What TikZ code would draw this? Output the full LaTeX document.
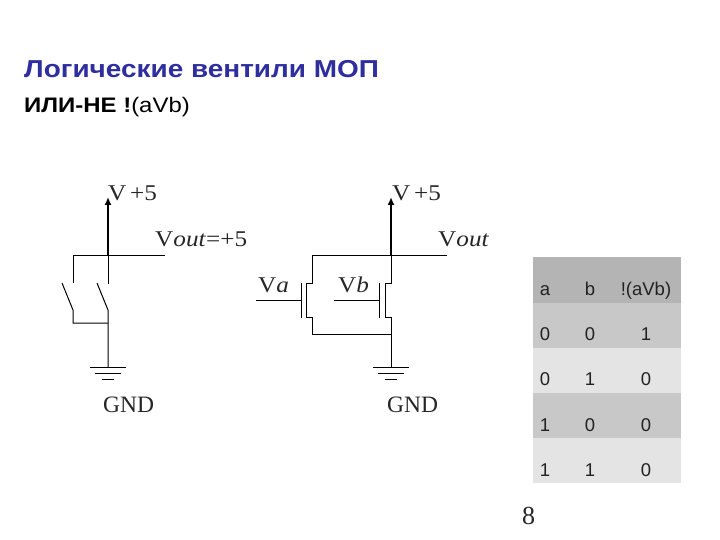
\documentclass[tikz,border=0pt]{standalone}
\usepackage{fontspec}
\setmainfont{Liberation Serif}
\setsansfont{Liberation Sans}
\newfontfamily\stsans[FakeStretch=1.14]{Liberation Sans}
\newfontfamily\stserif[FakeStretch=1.12]{Liberation Serif}
\usetikzlibrary{arrows.meta,calc}
\definecolor{titleblue}{HTML}{2E2E9E}
\definecolor{rowhead}{HTML}{B4B4B4}
\definecolor{rowdark}{HTML}{C8C8C8}
\definecolor{rowlight}{HTML}{E4E4E4}
\definecolor{cellink}{HTML}{222222}
\tikzset{
  x=1pt,y=-1pt,
  wire/.style={line width=1pt,black},
  supply/.style={line width=1.6pt,black,-{Latex[length=8pt,width=7pt]}},
  lbl/.style={inner sep=0pt,anchor=base west,font=\stserif\fontsize{22.5}{24}\selectfont,text=black!85},
  plainlbl/.style={inner sep=0pt,anchor=base west,font=\rmfamily\fontsize{23.5}{25}\selectfont,text=black!85},
  cell/.style={inner sep=0pt,anchor=base,font=\sffamily\fontsize{18.5}{20}\selectfont,text=cellink},
}
\newcommand{\gnd}[1]{%
  \coordinate (#1a) at ($(#1)+(-18,0)$);\coordinate (#1b) at ($(#1)+(18,0)$);
  \coordinate (#1c) at ($(#1)+(-13,6)$);\coordinate (#1d) at ($(#1)+(13,6)$);
  \coordinate (#1e) at ($(#1)+(-6,12)$);\coordinate (#1f) at ($(#1)+(6,12)$);
  \draw[wire] (#1a)--(#1b) (#1c)--(#1d) (#1e)--(#1f);}
\begin{document}
\begin{tikzpicture}
\useasboundingbox (0,0) rectangle (720,540);
% title
\node[inner sep=0pt,anchor=base west,font=\stsans\bfseries\fontsize{24.5}{28}\selectfont,text=titleblue] (title) at (24,78) {Логические вентили МОП};
\node[inner sep=0pt,anchor=base west,font=\stsans\fontsize{21}{24}\selectfont] (sub) at (24,113) {\textbf{ИЛИ-НЕ !}(aVb)};
% left circuit
\coordinate (Ltop) at (108,197);
\coordinate (Ljoin) at (108,255);
\coordinate (Lleft) at (73,255);
\coordinate (Lout) at (165,255);
\coordinate (S1t) at (73,283);
\coordinate (S1bl) at (62,283);
\coordinate (S1b) at (73,310);
\coordinate (S1e) at (73,323);
\coordinate (S2t) at (108,284);
\coordinate (S2bl) at (97,283);
\coordinate (S2b) at (108,310);
\coordinate (Ljoin2) at (108,323);
\coordinate (Lg) at (108,367);
\draw[supply] (Ljoin)--(Ltop);
\draw[wire] (S1t)--(Lleft)--(Lout);
\draw[wire] (Ljoin)--(S2t);
\draw[wire] (S1bl)--(S1b)--(S1e)--(Ljoin2);
\draw[wire] (S2bl)--(S2b)--(Lg);
\gnd{Lg}
\node[lbl] (Lv) at (108,201) {V\,+5};
\node[lbl] (Lvo) at (155,247) {V\textit{out}=+5};
\node[plainlbl] (Lgnd) at (103,412) {GND};
% right circuit
\coordinate (Rtop) at (391,197);
\coordinate (Rjoin) at (391,255);
\coordinate (Rleft) at (312,255);
\coordinate (Rout) at (447,255);
\coordinate (T1a) at (312,283);
\coordinate (T1b) at (306,283);
\coordinate (T1c) at (306,317);
\coordinate (T1d) at (312,317);
\coordinate (T1e) at (312,334);
\coordinate (G1t) at (301,283);
\coordinate (G1b) at (301,318);
\coordinate (G1m) at (301,300);
\coordinate (G1i) at (256,300);
\coordinate (T2a) at (391,283);
\coordinate (T2b) at (385,283);
\coordinate (T2c) at (385,317);
\coordinate (T2d) at (391,317);
\coordinate (Rjoin2) at (391,334);
\coordinate (G2t) at (379,283);
\coordinate (G2b) at (379,318);
\coordinate (G2m) at (379,300);
\coordinate (G2i) at (334,300);
\coordinate (Rg) at (391,367);
\draw[supply] (Rjoin)--(Rtop);
\draw[wire] (Rout)--(Rleft)--(T1a)--(T1b)--(T1c)--(T1d)--(T1e)--(Rjoin2);
\draw[wire] (Rjoin)--(T2a)--(T2b)--(T2c)--(T2d)--(Rg);
\draw[wire] (G1t)--(G1b) (G1i)--(G1m);
\draw[wire] (G2t)--(G2b) (G2i)--(G2m);
\gnd{Rg}
\node[lbl] (Rv) at (392,201) {V\,+5};
\node[lbl] (Rvo) at (438,247) {V\textit{out}};
\node[lbl] (Va) at (258,292) {V\textit{a}};
\node[lbl] (Vb) at (338,292) {V\textit{b}};
\node[plainlbl] (Rgnd) at (387,412) {GND};
% table
\fill[rowhead] (533,257) rectangle (681,303);
\fill[rowdark] (533,303) rectangle (681,348);
\fill[rowlight] (533,348) rectangle (681,393);
\fill[rowdark] (533,393) rectangle (681,438);
\fill[rowlight] (533,438) rectangle (681,483);
\foreach \n/\y/\a/\b/\c in {h/295/a/b/!(aVb),r1/340/0/0/1,r2/385/0/1/0,r3/431/1/0/0,r4/476/1/1/0}{
  \node[cell] (a\n) at (545,\y) {\a};
  \node[cell] (b\n) at (590,\y) {\b};
  \node[cell] (c\n) at (646,\y) {\c};
}
\node[plainlbl,font=\rmfamily\fontsize{26}{28}\selectfont] (page) at (522,524) {8};
\end{tikzpicture}
\end{document}
